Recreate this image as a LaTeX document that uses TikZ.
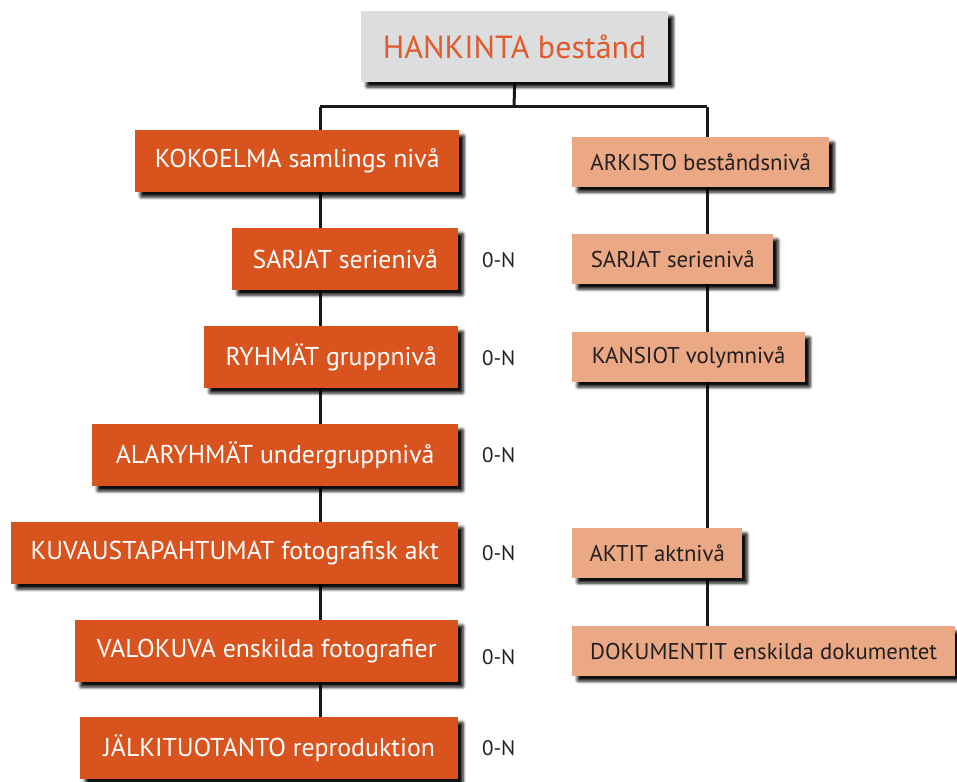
\documentclass[tikz,border=0pt]{standalone}
\usepackage{fontspec}
\setmainfont{PT Sans}
\usetikzlibrary{shadows.blur,backgrounds}
\definecolor{orng}{HTML}{D9531E}
\definecolor{salm}{HTML}{EBA884}
\definecolor{gry}{HTML}{DCDDDE}
\definecolor{txtdark}{HTML}{231F20}
\definecolor{ttl}{HTML}{E05A2B}
\tikzset{
  sh/.style={blur shadow={shadow xshift=5pt,shadow yshift=-5pt,shadow blur steps=6,shadow blur extra rounding=1pt,shadow opacity=95,shadow blur radius=3pt}},
  lbox/.style={sh,fill=orng,text=white,anchor=north west,inner sep=0pt,minimum height=62pt,font=\fontsize{25.8}{28}\selectfont},
  rbox/.style={sh,fill=salm,text=txtdark,anchor=north west,inner sep=0pt,minimum height=50pt,font=\fontsize{22.8}{25}\selectfont},
  tbox/.style={sh,fill=gry,text=ttl,anchor=north west,inner sep=0pt,minimum height=71pt,minimum width=307pt,font=\fontsize{32}{35}\selectfont},
  card/.style={text=txtdark,anchor=west,inner sep=0pt,font=\fontsize{21}{24}\selectfont},
  conn/.style={line width=3pt,color=black!90}
}
\begin{document}
\begin{tikzpicture}[x=1pt,y=-1pt]
\useasboundingbox (0,0) rectangle (957,781);
\node[tbox] (top) at (361,11) {HANKINTA bestånd};
\coordinate (hm) at (514,107);
\coordinate (hl) at (320,107);
\coordinate (hr) at (707,107);
% left column
\node[lbox,minimum width=324pt] (k1) at (135,130) {KOKOELMA samlings nivå};
\node[lbox,minimum width=226pt] (k2) at (232,228) {SARJAT serienivå};
\node[lbox,minimum width=254pt] (k3) at (204,326) {RYHMÄT gruppnivå};
\node[lbox,minimum width=366pt] (k4) at (92,424) {ALARYHMÄT undergruppnivå};
\node[lbox,minimum width=447pt] (k5) at (11,522) {KUVAUSTAPAHTUMAT fotografisk akt};
\node[lbox,minimum width=383pt] (k6) at (75,620) {VALOKUVA enskilda fotografier};
\node[lbox,minimum width=378pt] (k7) at (80,717) {JÄLKITUOTANTO reproduktion};
% right column
\node[rbox,minimum width=257pt] (a1) at (572,137) {ARKISTO beståndsnivå};
\node[rbox,minimum width=201pt] (a2) at (572,234) {SARJAT serienivå};
\node[rbox,minimum width=233pt] (a3) at (572,332) {KANSIOT volymnivå};
\node[rbox,minimum width=170pt] (a4) at (572,528) {AKTIT aktnivå};
\node[rbox,minimum width=383pt] (a5) at (572,626) {DOKUMENTIT enskilda dokumentet};
% cardinalities
\node[card] (c2) at (482,260) {0-N};
\node[card] (c3) at (482,358) {0-N};
\node[card] (c4) at (482,455) {0-N};
\node[card] (c5) at (482,553) {0-N};
\node[card] (c6) at (482,657) {0-N};
\node[card] (c7) at (482,748) {0-N};
\begin{pgfonlayer}{background}
\draw[conn] (top.south) -- (hm);
\draw[conn] (hl) -- (hr);
\draw[conn] (hl) -- (hl |- k7.north);
\draw[conn] (hr) -- (hr |- a5.north);
\end{pgfonlayer}
\end{tikzpicture}
\end{document}
